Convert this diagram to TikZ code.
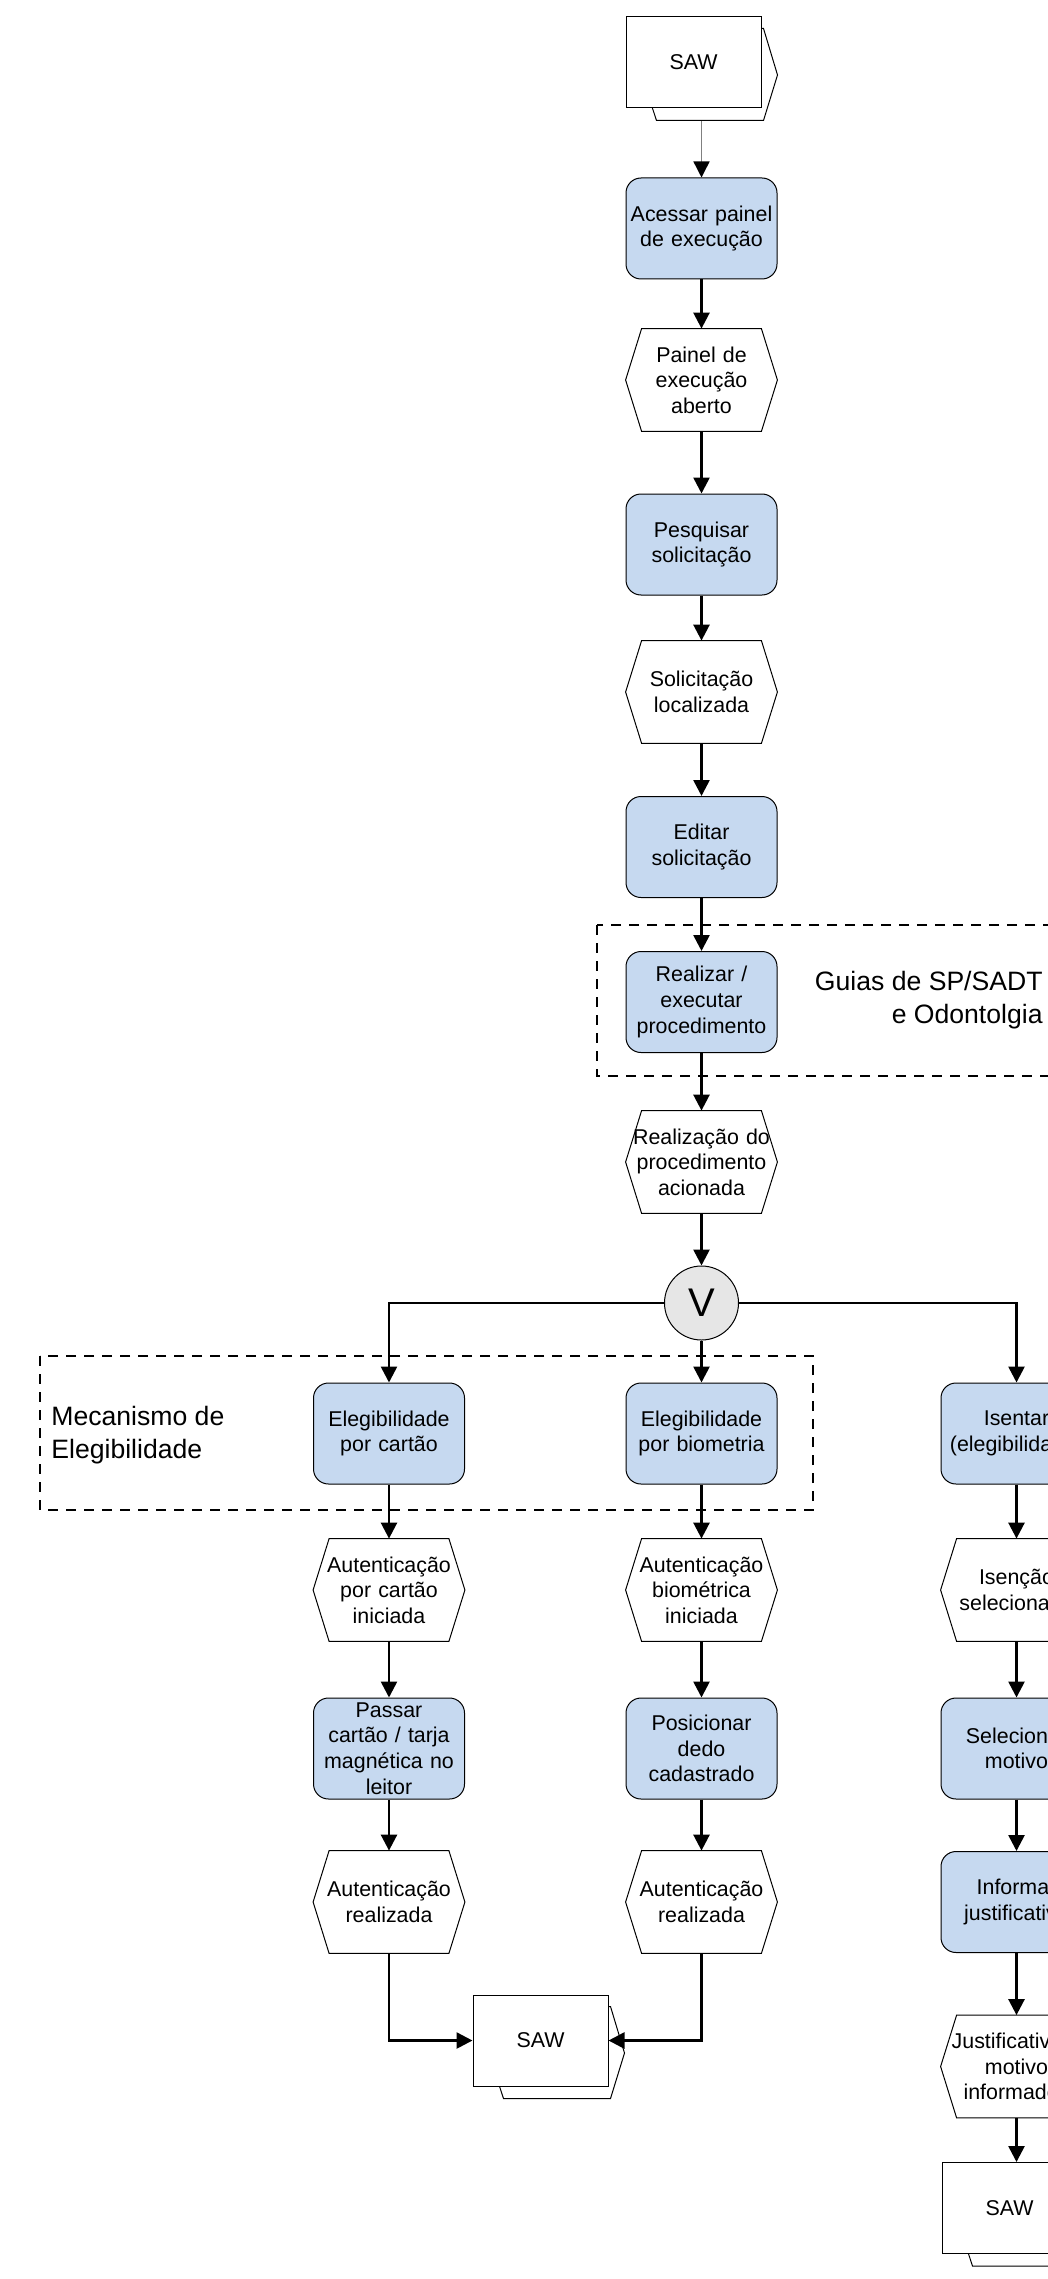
\documentclass[tikz,border=0pt]{standalone}
\usepackage{fontspec}
\setmainfont{Liberation Sans}
\usetikzlibrary{positioning,arrows.meta,backgrounds}
\definecolor{F}{RGB}{198,217,240}
\definecolor{V}{RGB}{230,230,230}
\tikzset{%
  flow/.style = {
    -{Triangle[length=8pt,width=8pt]},
    line width = 1.3pt,
    draw = #1,
  },
  flow/.default = {black},
  feed/.style = {
    -{Triangle[length=8pt,width=8pt,color=black]},
    line width = 0.7pt,
    draw = #1,
  },
  feed/.default = {gray},
  fbox/.style = {
    line width = 0.5pt,
    rounded corners = 7.5pt,
    fill = #1,
    draw = black,
    align = center,
    inner sep = 0pt,
    text width = 75.5pt,
    minimum height = 50.5pt,
    font = \fontsize{10.7}{12.8}\selectfont,
  },
  fbox/.default = {F},
  evt/.style = {
    align = center,
    inner sep = 0pt,
    text width = 75.5pt,
    minimum height = 51pt,
    font = \fontsize{10.7}{12.8}\selectfont,
  },
  hexline/.style = {
    line width = 0.5pt,
    draw = black,
    fill = #1,
  },
  hexline/.default = {white},
  saw/.style = {
    line width = 0.5pt,
    draw = black,
    fill = white,
    inner sep = 0pt,
    minimum width = 67.5pt,
    minimum height = 45.5pt,
    font = \fontsize{10.7}{12.8}\selectfont,
  },
  gate/.style = {
    circle,
    line width = 0.5pt,
    draw = black,
    fill = #1,
    inner sep = 0pt,
    minimum size = 37pt,
    font = \fontsize{20}{24}\selectfont,
  },
  gate/.default = {V},
  group/.style = {
    dash pattern = on 5pt off 4pt,
    line width = 0.9pt,
  },
  note/.style = {
    inner sep = 0pt,
    font = \fontsize{13.3}{16.5}\selectfont,
  },
}

\begin{document}
\begin{tikzpicture}[x=0.5pt, y=-0.5pt]
  \useasboundingbox (0,0) rectangle (1048,2279);
  \clip (0,0) rectangle (1048,2279);

  % groups
  \draw[group] (597,925) rectangle (1070,1076);
  \draw[group] (40,1356) rectangle (813,1510);
  \node[note, anchor=east, align=right] (guias) at (1043,1000) {Guias de SP/SADT\\e Odontolgia};
  \node[note, anchor=west, align=left] (mecanismo) at (51,1435) {Mecanismo de\\Elegibilidade};

  % main column
  \node[saw] (saw1) at (693.5,62.5) {SAW};
  \node[fbox] (acessar) at (701.5,228.5) {Acessar painel\\de execução};
  \node[evt] (painel) at (701.5,380) {Painel de\\execução\\aberto};
  \node[fbox] (pesquisar) at (701.5,544.5) {Pesquisar\\solicitação};
  \node[evt] (localizada) at (701.5,692) {Solicitação\\localizada};
  \node[fbox] (editar) at (701.5,847) {Editar\\solicitação};
  \node[fbox] (realizar) at (701.5,1002) {Realizar /\\executar\\procedimento};
  \node[evt] (acionada) at (701.5,1162) {Realização do\\procedimento\\acionada};
  \node[gate] (vcirc) at (701.5,1303) {V};

  % branches
  \node[fbox] (cartao) at (389,1433.5) {Elegibilidade\\por cartão};
  \node[fbox] (biometria) at (701.5,1433.5) {Elegibilidade\\por biometria};
  \node[fbox] (isentar) at (1016.5,1433.5) {Isentar\\(elegibilidade)};
  \node[evt] (ini1) at (389,1590) {Autenticação\\por cartão\\iniciada};
  \node[evt] (ini2) at (701.5,1590) {Autenticação\\biométrica\\iniciada};
  \node[evt] (isencao) at (1016.5,1590) {Isenção\\selecionada};
  \node[fbox] (passar) at (389,1748.5) {Passar\\cartão / tarja\\magnética no\\leitor};
  \node[fbox] (posicionar) at (701.5,1748.5) {Posicionar\\dedo\\cadastrado};
  \node[fbox] (selecionar) at (1016.5,1748.5) {Selecionar\\motivo};
  \node[evt] (feito1) at (389,1902) {Autenticação\\realizada};
  \node[evt] (feito2) at (701.5,1902) {Autenticação\\realizada};
  \node[fbox] (informar) at (1016.5,1902) {Informar\\justificativa};
  \node[evt] (justif) at (1016.5,2066.5) {Justificativa e\\motivo\\informados};
  \node[saw] (saw2) at (540.5,2040.5) {SAW};
  \node[saw] (saw3) at (1009.5,2208) {SAW};

  % event outlines
  \foreach \n in {painel,localizada,acionada,ini1,ini2,isencao,feito1,feito2,justif}
    \draw[hexline=none] (\n.west) -- ([xshift=8pt]\n.north west) -- ([xshift=-8pt]\n.north east)
      -- (\n.east) -- ([xshift=-8pt]\n.south east) -- ([xshift=8pt]\n.south west) -- cycle;

  % connectors
  \foreach \a/\b in {acessar/painel,painel/pesquisar,pesquisar/localizada,localizada/editar,
      editar/realizar,realizar/acionada,acionada/vcirc,vcirc/biometria,
      cartao/ini1,ini1/passar,passar/feito1,biometria/ini2,ini2/posicionar,posicionar/feito2,
      isentar/isencao,isencao/selecionar,selecionar/informar,informar/justif}
    \draw[flow] (\a.south) -- (\b.north);
  \draw[flow] (vcirc.west) -| (cartao.north);
  \draw[flow] (vcirc.east) -| (isentar.north);
  \draw[flow] (feito1.south) |- (saw2.west);
  \draw[flow] (feito2.south) |- (saw2.east);
  \draw[flow] (justif.south) -- (justif.south |- saw3.north);

  % interface shadows
  \begin{scope}[on background layer]
    \clip (0,0) rectangle (1048,2279);
    \draw[feed] (saw1.south -| acessar.north) -- (acessar.north);
    \foreach \n in {saw1,saw2,saw3}
      \draw[hexline] ([shift={(16,12.5)}]\n.west) -- ([shift={(31,12)}]\n.north west)
        -- ([shift={(2,12)}]\n.north east) -- ([shift={(16,12.5)}]\n.east)
        -- ([shift={(2,12)}]\n.south east) -- ([shift={(31,12)}]\n.south west) -- cycle;
  \end{scope}
\end{tikzpicture}
\end{document}
